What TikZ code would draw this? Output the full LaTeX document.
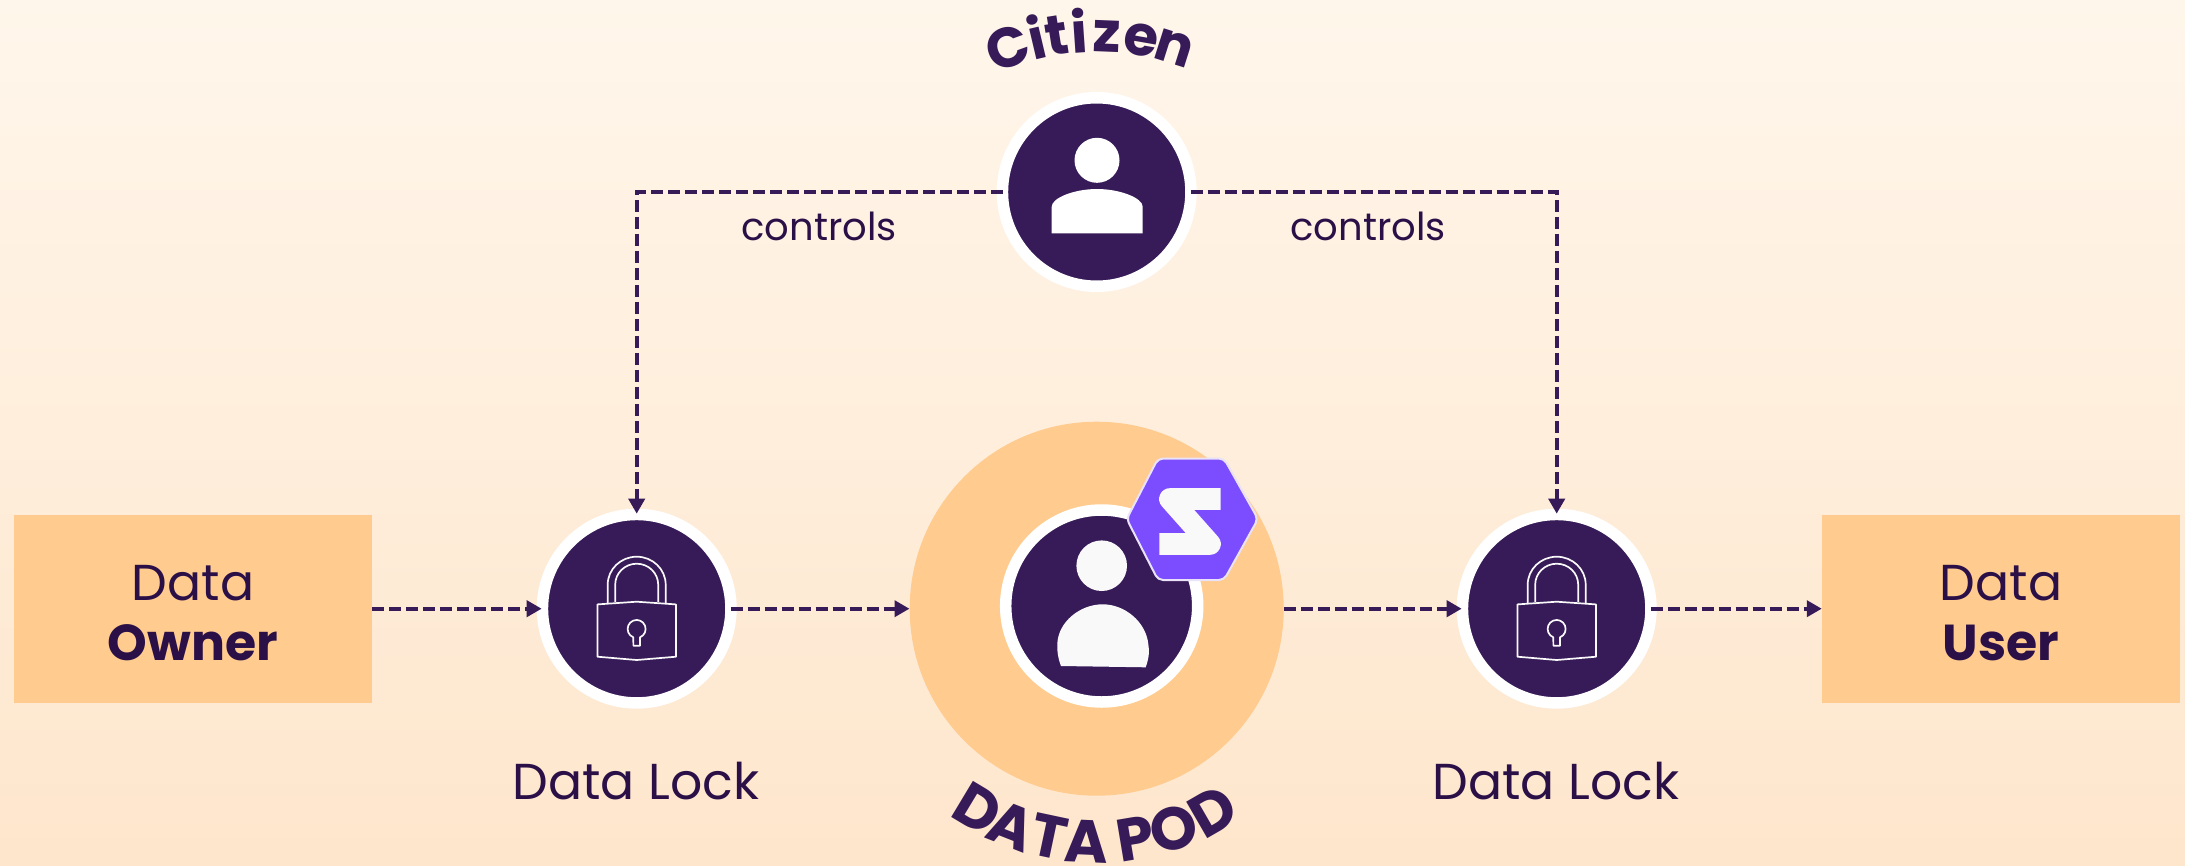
\documentclass[tikz,border=0pt]{standalone}
\usepackage{fontspec}
\setmainfont{Poppins}
\usetikzlibrary{arrows.meta}
\definecolor{ink}{HTML}{2B1048}
\definecolor{plum}{HTML}{371B58}
\definecolor{peach}{HTML}{FFCB8E}
\definecolor{bgtop}{HTML}{FFF6EB}
\definecolor{bgbot}{HTML}{FEE6CC}
\definecolor{violet}{HTML}{7C4DFF}
\definecolor{rim}{HTML}{E9E2F8}
\definecolor{paper}{HTML}{F9F9F9}
\tikzset{
  x=1pt,y=1pt,
  party/.style={draw=none,fill=peach,minimum width=358pt,minimum height=188pt,inner sep=0pt,
    text=ink,align=center,font=\fontsize{50.5}{60}\selectfont},
  hub/.style={circle,draw=white,fill=plum,line width=11.5pt,minimum size=188.5pt,inner sep=0pt},
  podcore/.style={circle,draw=white,fill=plum,line width=11.5pt,minimum size=192pt,inner sep=0pt},
  podring/.style={circle,fill=peach,minimum size=374pt,inner sep=0pt},
  caption/.style={text=ink,font=\fontsize{50.5}{50.5}\selectfont,inner sep=0pt},
  small/.style={text=ink,font=\fontsize{38.5}{38.5}\selectfont,inner sep=0pt},
  arcletter/.style={text=plum,font=\fontsize{56}{56}\selectfont\bfseries,inner sep=0pt,anchor=base},
  podletter/.style={text=plum,font=\fontsize{60}{60}\selectfont\bfseries,inner sep=0pt,anchor=base},
  flow/.style={draw=plum,line width=3.8pt,dash pattern=on 12pt off 5pt,
    -{Triangle[length=15pt,width=16pt]}},
  lockline/.style={draw=paper,line width=1.7pt,line join=round},
  lockicon/.pic={
    \begin{scope}[yscale=-1]
    \draw[lockline] (-39.3,-4.3) -- (0,-7) -- (39.3,-4.3) -- (39.3,48) -- (0,51.3) -- (-39.3,48) -- cycle;
    \draw[lockline] (-29,-5.5) -- (-29,-24) arc (180:360:29 and 28) -- (29,-5.5);
    \draw[lockline] (-21.5,-6.5) -- (-21.5,-24) arc (180:360:21.5 and 21) -- (21.5,-6.5);
    \draw[lockline] (-3.3,37) -- (3.3,37) -- (3.3,28.6) arc (68:-248:9) -- cycle;
    \end{scope}
  }
}
\begin{document}
\begin{tikzpicture}
\useasboundingbox (0,0) rectangle (2185,-865);
\shade[top color=bgtop,bottom color=bgbot] (0,0) rectangle (2185,-865);

\node[party] (owner) at (193,-608.7) {\rule{0pt}{44pt}Data\\\textbf{Owner}};
\node[party] (user) at (2001,-608.7) {\rule{0pt}{44pt}Data\\\textbf{User}};
\node[podring] (pod) at (1096.7,-608.7) {};
\node[podcore] (core) at (1101.7,-606) {};
\node[hub] (citizen) at (1096.7,-192) {};
\node[hub] (lock1) at (636.7,-608.7) {};
\node[hub] (lock2) at (1556.7,-608.7) {};

% citizen person
\fill[white] (1097,-160.3) circle (22.5);
\fill[white] (1051.7,-233.3) -- (1142.7,-233.3) -- (1142.7,-206.7)
  .. controls (1142.7,-198) and (1120,-189) .. (1097,-189)
  .. controls (1074,-189) and (1051.7,-198) .. (1051.7,-206.7) -- cycle;

% pod person
\fill[paper] (1101.7,-565.7) circle (25.3);
\fill[paper] (1061,-666) -- (1145.7,-667.3)
  .. controls (1150,-655) and (1149,-650) .. (1148.3,-644)
  .. controls (1146,-622) and (1125,-604.3) .. (1102.7,-604.3)
  .. controls (1080,-604.3) and (1058,-622) .. (1057.3,-644)
  .. controls (1057,-652) and (1058,-658) .. (1061,-666) -- cycle;

% hexagon badge
\draw[fill=violet,draw=rim,line width=2pt,line join=round,rounded corners=5pt]
  (1126.7,-519) -- (1158,-458.5) -- (1224,-458.5) -- (1258,-519) -- (1224,-580) -- (1158,-580) -- cycle;
\begin{scope}[shift={(900,-420)},x=0.3333pt,y=-0.3333pt]
  \draw[paper,line width=21.7pt,line join=round,line cap=butt]
    (962,237) -- (810,237) -- (930,372) -- (778,372);
\end{scope}

\pic at (lock1) {lockicon};
\pic at (lock2) {lockicon};

\draw[flow,shorten >=-5pt] (owner.east) -- (lock1.west);
\draw[flow,shorten <=-6pt] (lock1.east) -- (pod.west);
\draw[flow,shorten >=-5pt] (pod.east) -- (lock2.west);
\draw[flow,shorten <=-6pt] (lock2.east) -- (user.west);
\draw[flow,shorten <=-6pt,shorten >=-5pt] (citizen.west) -| (lock1.north);
\draw[flow,shorten <=-6pt,shorten >=-5pt] (citizen.east) -| (lock2.north);

\node[small] (c1) at (819,-226) {controls};
\node[small] (c2) at (1368,-226) {controls};
\node[caption] (cap1) at (636,-781) {Data Lock};
\node[caption] (cap2) at (1556,-781) {Data Lock};

% Citizen: letters on an arc (offset from the top of the arc, in degrees)
\foreach \ch/\off/\id in {C/-20/a,i/-13.3/b,t/-9/c,i/-3.9/d,z/2.3/e,e/10/f,n/17.6/g}
  \node[arcletter,rotate=-\off] (cit\id) at ([shift={({90-\off}:240)}]1097,-292) {\ch};
% DATA POD: letters on an arc (offset from the bottom of the arc, in degrees)
\foreach \ch/\off/\id in {D/-31/a,A/-21.5/b,T/-12/c,A/-2.6/d,P/9.5/e,O/19.4/f,D/30/g}
  \node[podletter,rotate=\off] (dp\id) at ([shift={({270+\off}:253)}]1097,-610) {\ch};
\end{tikzpicture}
\end{document}
